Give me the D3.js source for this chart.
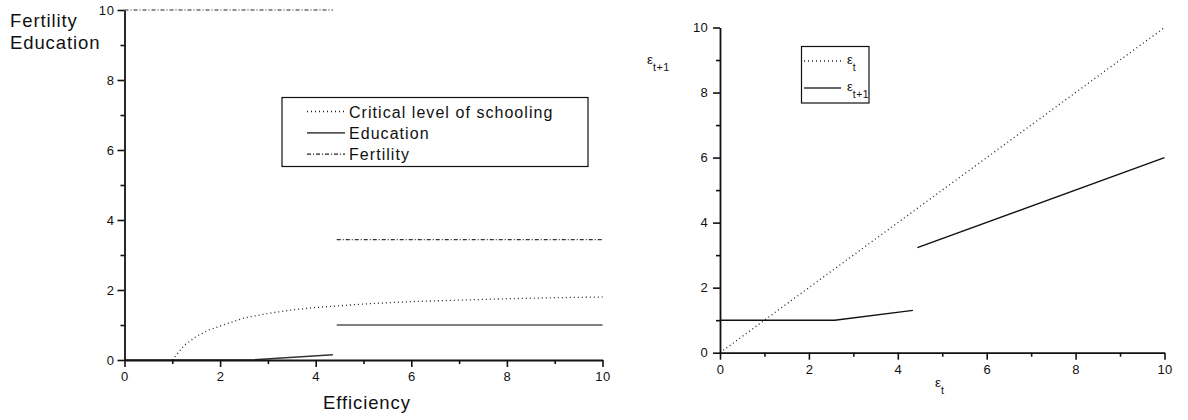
<!DOCTYPE html>
<html>
<head>
<meta charset="utf-8">
<script src="https://cdn.jsdelivr.net/npm/d3@7"></script>
<style>
  body { margin: 0; background: #fff; }
  svg { display: block; font-family: "Liberation Sans", Arial, sans-serif; }
</style>
</head>
<body>
<div id="chart"></div>
<script>
// ---- data ----
const majorTicks = [0, 2, 4, 6, 8, 10];
const minorTicks = [1, 3, 5, 7, 9];

// left panel: Efficiency vs Fertility / Education
const criticalX = [1, 1.25, 1.5, 1.75, 2, 2.5, 3, 3.5, 4, 5, 6, 7, 8, 9, 10];
const criticalY = [0, 0.42, 0.67, 0.85, 0.97, 1.2, 1.33, 1.43, 1.5, 1.6, 1.67, 1.71, 1.75, 1.78, 1.8];
const educationLowX = [0, 2.62, 4.36];
const educationLowY = [0, 0, 0.15];
const educationHighX = [4.44, 10];
const educationHighY = [1, 1];
const fertilityLowX = [0, 4.36];
const fertilityLowY = [10, 10];
const fertilityHighX = [4.44, 10];
const fertilityHighY = [3.44, 3.44];
const leftLegend = ["Critical level of schooling", "Education", "Fertility"];

// right panel: e_t vs e_t+1
const diagX = [0, 10];
const diagY = [0, 10];
const nextLowX = [0, 2.58, 4.34];
const nextLowY = [1, 1, 1.3];
const nextHighX = [4.44, 10];
const nextHighY = [3.23, 6.0];

const W = 1188, H = 420;
const ink = "#111";

const svg = d3.select("#chart").append("svg")
    .attr("width", W)
    .attr("height", H);

const zip = (xs, ys) => xs.map((x, i) => [x, ys[i]]);

// draws axes with major + minor ticks for one panel
function drawAxes(x, y, opts) {
    let groups = [];
    let gx = svg.append("g")
        .attr("transform", "translate(0," + y.range()[0] + ")")
        .call(d3.axisBottom(x).tickValues(majorTicks).tickSize(7).tickPadding(opts.padX).tickSizeOuter(0));
    let gx2 = svg.append("g")
        .attr("transform", "translate(0," + y.range()[0] + ")")
        .call(d3.axisBottom(x).tickValues(minorTicks).tickSize(4).tickFormat("").tickSizeOuter(0));
    gx2.select(".domain").remove();
    let gy = svg.append("g")
        .attr("transform", "translate(" + x.range()[0] + ",0)")
        .call(d3.axisLeft(y).tickValues(majorTicks).tickSize(7).tickPadding(opts.padY).tickSizeOuter(0));
    let gy2 = svg.append("g")
        .attr("transform", "translate(" + x.range()[0] + ",0)")
        .call(d3.axisLeft(y).tickValues(minorTicks).tickSize(4).tickFormat("").tickSizeOuter(0));
    gy2.select(".domain").remove();

    [gx, gx2, gy, gy2].forEach(g => {
        g.selectAll(".domain").attr("stroke", ink).attr("stroke-width", 1.8);
        g.selectAll(".tick line").attr("stroke", ink).attr("stroke-width", 1.6);
        g.selectAll("text")
            .attr("fill", ink)
            .style("font-size", opts.font + "px")
            .style("letter-spacing", opts.spacing + "px")
            .style("font-family", "Liberation Sans, Arial, sans-serif");
    });
}

function drawLine(x, y, pts, dash, color, width) {
    svg.append("path")
        .datum(pts)
        .attr("fill", "none")
        .attr("stroke", color)
        .attr("stroke-width", width)
        .attr("stroke-dasharray", dash)
        .attr("d", d3.line().x(d => x(d[0])).y(d => y(d[1])));
}

// ---------- left panel ----------
let xL = d3.scaleLinear().domain([0, 10]).range([124.5, 602.5]);
let yL = d3.scaleLinear().domain([0, 10]).range([360, 10]);

const dotted = "1,3";
const dashDot = "4,2,1,2";

drawLine(xL, yL, zip(criticalX, criticalY), dotted, "#222", 1.3);
drawLine(xL, yL, zip(educationLowX, educationLowY), null, "#333", 1.3);
drawLine(xL, yL, zip(educationHighX, educationHighY), null, "#555", 1.7);
drawLine(xL, yL, zip(fertilityLowX, fertilityLowY), dashDot, "#222", 1.1);
drawLine(xL, yL, zip(fertilityHighX, fertilityHighY), dashDot, "#333", 1.2);

drawAxes(xL, yL, {padX: 5, padY: 3, font: 13, spacing: 0.6});

const bigLabel = (px, py, s) => svg.append("text").attr("x", px).attr("y", py).attr("fill", ink)
    .style("font-size", "18.5px").style("letter-spacing", "0.9px").text(s);
bigLabel(10, 26.5, "Fertility");
bigLabel(10, 48.5, "Education");
bigLabel(323, 408.5, "Efficiency");

// left legend
svg.append("rect")
    .attr("x", 282).attr("y", 97.5).attr("width", 306).attr("height", 69)
    .attr("fill", "#fff").attr("stroke", ink).attr("stroke-width", 1.2);
const legStyles = [[dotted, "#222", 1.3], [null, "#555", 1.7], [dashDot, "#222", 1.1]];
leftLegend.forEach((name, i) => {
    let ly = 111.5 + i * 21.3;
    svg.append("line")
        .attr("x1", 307).attr("x2", 345).attr("y1", ly).attr("y2", ly)
        .attr("stroke", legStyles[i][1])
        .attr("stroke-width", legStyles[i][2])
        .attr("stroke-dasharray", legStyles[i][0]);
    svg.append("text").attr("x", 349).attr("y", ly + 6).attr("fill", ink)
        .style("font-size", "16px").style("letter-spacing", "1.05px").text(name);
});

// ---------- right panel ----------
let xR = d3.scaleLinear().domain([0, 10]).range([720, 1164.5]);
let yR = d3.scaleLinear().domain([0, 10]).range([352.7, 27.5]);

drawLine(xR, yR, zip(diagX, diagY), dotted, "#222", 1.3);
drawLine(xR, yR, zip(nextLowX, nextLowY), null, "#111", 1.4);
drawLine(xR, yR, zip(nextHighX, nextHighY), null, "#111", 1.4);

drawAxes(xR, yR, {padX: 5, padY: 5, font: 13, spacing: 0.3});

// epsilon label helper
function epsLabel(px, py, sub, size) {
    let t = svg.append("text").attr("x", px).attr("y", py).attr("fill", ink)
        .style("font-size", size + "px");
    t.append("tspan").text("ε");
    t.append("tspan").attr("dy", size * 0.55).style("font-size", (size * 0.8) + "px")
        .style("letter-spacing", "0.5px").text(sub);
}

epsLabel(647, 64, "t+1", 13.5);
epsLabel(935, 387, "t", 13.5);

// right legend
svg.append("rect")
    .attr("x", 801.5).attr("y", 46.5).attr("width", 67.5).attr("height", 56.5)
    .attr("fill", "#fff").attr("stroke", ink).attr("stroke-width", 1.2);
svg.append("line").attr("x1", 804).attr("x2", 841).attr("y1", 61).attr("y2", 61)
    .attr("stroke", "#222").attr("stroke-width", 1.3).attr("stroke-dasharray", dotted);
svg.append("line").attr("x1", 804).attr("x2", 841).attr("y1", 88).attr("y2", 88)
    .attr("stroke", "#333").attr("stroke-width", 1.4);
epsLabel(847, 64, "t", 13);
epsLabel(847, 91, "t+1", 13);
</script>
</body>
</html>
